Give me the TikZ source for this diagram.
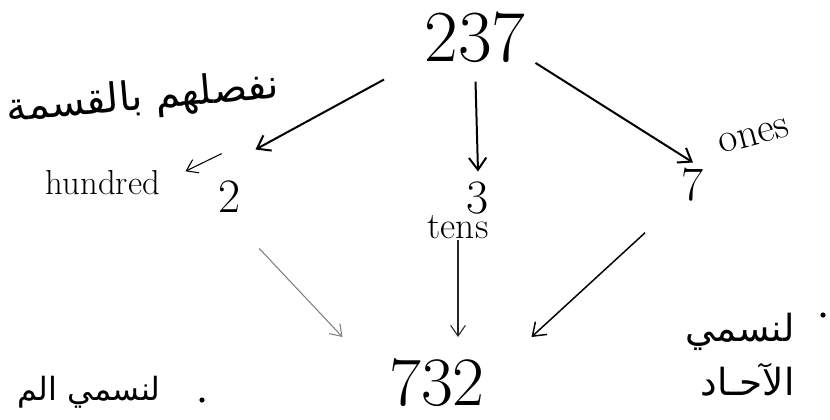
\documentclass[tikz,border=0pt]{standalone}
\usepackage{fontspec}
\usetikzlibrary{arrows.meta}
\newfontfamily\arabicfont[Script=Arabic]{DejaVu Sans}
\TeXXeTstate=1

\tikzset{every picture/.style={line width=0.75pt}}
\tikzset{
  digit/.style={inner sep=0pt, font=\fontsize{36}{40}\selectfont},
  bignum/.style={inner sep=0pt, font=\fontsize{55}{60}\selectfont},
  word/.style={inner sep=0.75pt, font=\fontsize{28}{32}\selectfont},
  arabic/.style={inner sep=0.75pt, font=\arabicfont\fontsize{28}{40}\selectfont},
  hand/.style={-{Straight Barb[length=9pt,width=13pt]}, line width=1.5pt},
  thinhand/.style={-{Straight Barb[length=8pt,width=11pt]}, line width=0.8pt},
}

\begin{document}
\begin{tikzpicture}[x=0.75pt,y=0.75pt,yscale=-1,xscale=1]
    \useasboundingbox (0,0) rectangle (830,419);

    % Text Node
    \node[bignum, minimum width=90pt, minimum height=30pt] (num) at (475,37) {237};
    % Text Node
    \node[digit, minimum width=37.5pt, minimum height=70.5pt] (hund) at (230,197) {2};
    % Text Node
    \node[digit, minimum height=39pt] (ten) at (478,198) {3};
    % Text Node
    \node[digit, minimum width=30pt, minimum height=33pt] (one) at (693,185) {7};
    % Text Node
    \node[bignum, font=\fontsize{52}{56}\selectfont, minimum width=141pt, text height=51pt, text depth=0pt, anchor=north] (res) at (437,337) {732};

    % Text Node
    \node[word, font=\fontsize{26}{30}\selectfont] (hlab) at (103,183) {hundred};
    % Text Node
    \node[word] (tlab) at (458,227) {tens};
    % Text Node
    \node[word, font=\fontsize{31}{34}\selectfont, rotate=15] (olab) at (754,136) {ones};

    % Text Node
    \node[arabic, font=\arabicfont\fontsize{30}{40}\selectfont, rotate=5] (split) at (143,99) {\beginR نفصلهم بالقسمة\endR};
    % Text Node
    \node[arabic, font=\arabicfont\fontsize{24}{36}\selectfont, anchor=east] (hname) at (162,392) {\beginR لنسمي الم\endR};
    % Text Node
    \node[arabic, align=right, anchor=north east] (oname) at (796,312) {\beginR لنسمي\endR\\\beginR الآحـاد\endR};

    %Shape: Circle
    \fill (202,400) circle (2.6);
    %Shape: Circle
    \fill (823,315) circle (2.6);

    %Straight Lines
    \draw[hand, shorten <=26pt] (num.south west) -- (hund.north east);
    %Straight Lines
    \draw[hand, shorten <=14pt] (num.south) -- (ten.north);
    %Straight Lines
    \draw[hand] (num.south east) -- (one.north);
    %Straight Lines
    \draw[thinhand, shorten <=7pt, shorten >=20pt] (hund.north) -- (hlab.east);

    %Straight Lines
    \draw[thinhand, black!50, shorten <=4pt] (hund.south east) -- (res.north west);
    %Straight Lines
    \draw[thinhand, black!85] (tlab.south) -- (tlab.south |- res.north);
    %Straight Lines
    \draw[hand, line width=1.1pt, shorten <=28pt] (one.south west) -- (res.north east);

\end{tikzpicture}
\end{document}
